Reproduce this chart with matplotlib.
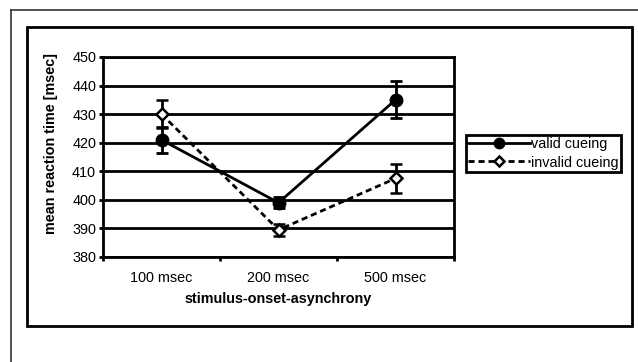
import matplotlib
matplotlib.use('Agg')
import matplotlib.pyplot as plt
import matplotlib.transforms as mtransforms
from matplotlib.patches import Rectangle
from matplotlib.lines import Line2D

# data
categories = ['100 msec', '200 msec', '500 msec']
valid = [421, 399, 435]
valid_err = [4.5, 2, 6.5]
invalid = [430, 389.5, 407.5]
invalid_err = [5, 2, 5]

plt.rcParams['font.family'] = ['Liberation Sans', 'DejaVu Sans']
FS = 10.4

fig = plt.figure(figsize=(6.38, 3.62), dpi=100)
W, H = 638, 362

# outer frame (runs off right and bottom)
fig.add_artist(Line2D([11 / W, 1.0], [1 - 10 / H, 1 - 10 / H], color='#333333', lw=1.2))
fig.add_artist(Line2D([11 / W, 11 / W], [0.0, 1 - 10 / H], color='#333333', lw=1.2))
# chart frame
fig.add_artist(Rectangle((27 / W, 1 - 326 / H), (632 - 27) / W, (326 - 27) / H,
                         fill=False, ec='black', lw=2))

ax = fig.add_axes([103 / W, 1 - 257 / H, (454 - 103) / W, (257 - 57) / H])
x = list(range(len(categories)))

valid_style = dict(color='black', lw=2, marker='o', ms=9, mfc='black', mec='black')
invalid_style = dict(color='black', lw=2, ls=(0, (2.2, 1.4)), marker='D', ms=6.5,
                     mfc='white', mec='black', mew=1.8)

ax.errorbar(x, valid, yerr=valid_err, capsize=4.5, capthick=2, elinewidth=2,
            zorder=4, **valid_style)
ax.errorbar(x, invalid, yerr=invalid_err, capsize=4.5, capthick=2, elinewidth=2,
            zorder=4, **invalid_style)

ax.set_xlim(-0.5, 2.5)
ax.set_ylim(380, 450)
ax.set_yticks(range(380, 451, 10))
ax.yaxis.grid(True, color='black', lw=2)
ax.set_axisbelow(True)
ax.set_xticks([-0.5, 0.5, 1.5, 2.5])
ax.set_xticklabels([])
ax.set_xticks(x, minor=True)
ax.set_xticklabels(categories, minor=True)
# labels sit a bit right of the category centre, as in the original
shift = mtransforms.ScaledTranslation(10 / 100, 0, fig.dpi_scale_trans)
for lab in ax.get_xticklabels(minor=True):
    lab.set_transform(lab.get_transform() + shift)
ax.tick_params(axis='x', which='minor', length=0, labelsize=FS, pad=10)
ax.tick_params(axis='x', which='major', length=3, width=2, direction='out')
ax.tick_params(axis='y', length=3, width=2, labelsize=FS, pad=2)
for s in ax.spines.values():
    s.set_linewidth(2)

ax.set_xlabel('stimulus-onset-asynchrony', fontsize=FS, fontweight='bold', labelpad=5)
ax.set_ylabel('mean reaction time [msec]', fontsize=FS, fontweight='bold')
ax.yaxis.set_label_coords(-0.128, 0.5675)

handles = [Line2D([], [], **dict(valid_style, ms=7.5)),
           Line2D([], [], **dict(invalid_style, ms=5.5))]
leg = fig.legend(handles, ['valid cueing', 'invalid cueing'], loc='upper left',
                 bbox_to_anchor=(466 / W, 1 - 135 / H), fontsize=FS,
                 frameon=True, fancybox=False, edgecolor='black', borderpad=0.15,
                 handlelength=4.3, handletextpad=0.05, labelspacing=0.3,
                 borderaxespad=0, framealpha=1)
leg.get_frame().set_linewidth(2)

fig.savefig('out.png', dpi=100)
